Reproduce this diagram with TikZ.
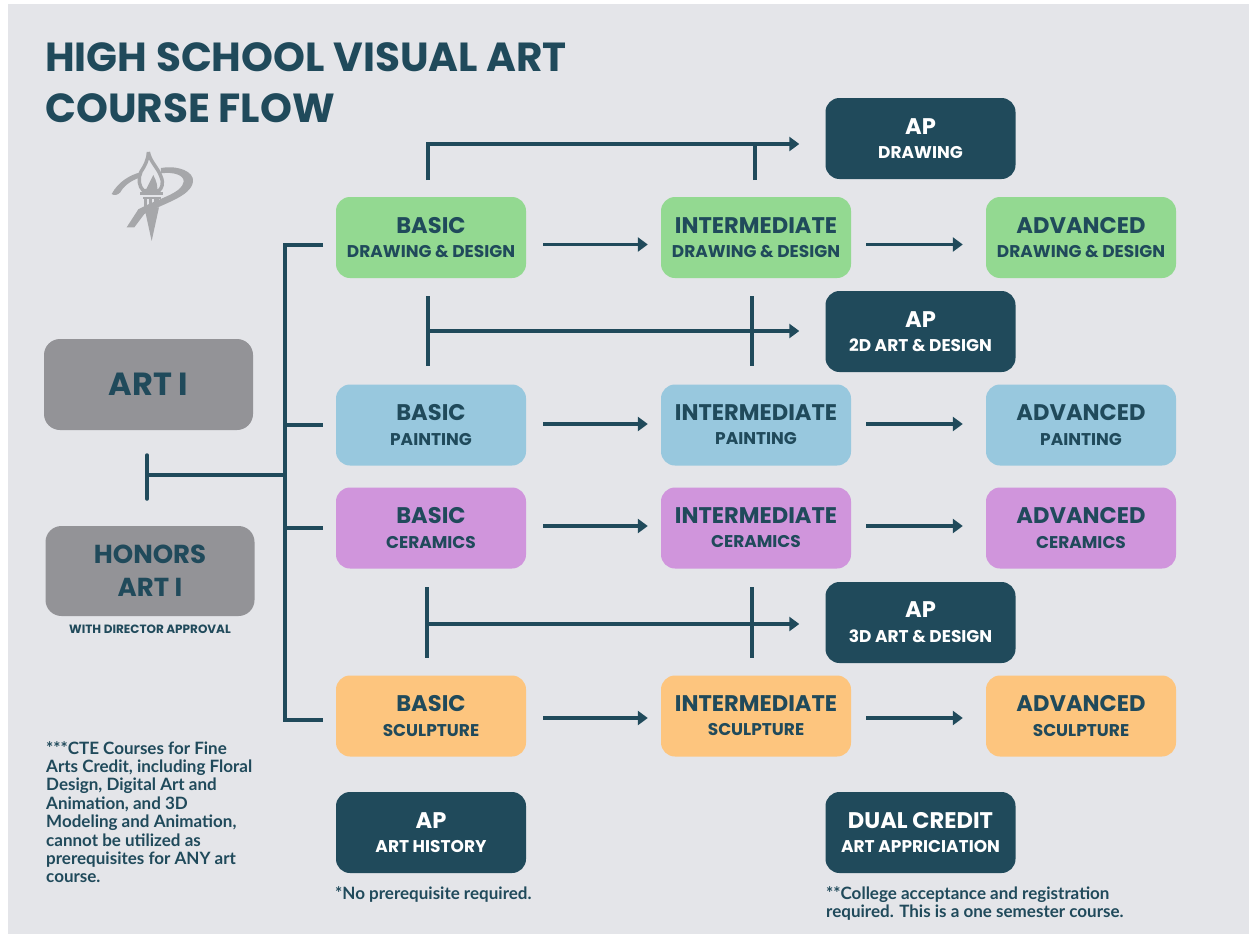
\documentclass[tikz,border=0pt]{standalone}
\usepackage{fontspec}
\setmainfont{Poppins}
\newfontfamily\notefont{Lato}
\usetikzlibrary{arrows.meta}
\definecolor{ink}{HTML}{204A5B}
\definecolor{paper}{HTML}{E4E5E9}
\definecolor{grn}{HTML}{93D991}
\definecolor{blu}{HTML}{98C8DE}
\definecolor{pur}{HTML}{D095DC}
\definecolor{org}{HTML}{FDC57E}
\definecolor{gry}{HTML}{939397}
\definecolor{logo}{HTML}{A6A7AA}
\newcommand{\crs}[2]{\fontsize{22.6}{25}\selectfont\raisebox{-1pt}{#1}\\[11pt]\fontsize{17}{25}\selectfont\raisebox{-1pt}{#2}}
\tikzset{
  box/.style = {rounded corners=14pt, minimum width=190pt, minimum height=81pt, inner sep=0pt, align=center, font=\bfseries, text=ink},
  ap/.style = {box, fill=ink, text=white},
  first/.style = {rounded corners=16pt, fill=gry, minimum width=209pt, minimum height=91pt, inner sep=0pt, align=center, text=ink, font=\bfseries\fontsize{32}{33}\selectfont},
  note/.style = {inner sep=0pt, align=left, text=ink, font=\notefont\bfseries\fontsize{17}{18.4}\selectfont},
  line/.style = {draw=ink, line width=3.5pt},
  flow/.style = {line, -{Triangle[length=10pt,width=14pt]}},
  next/.style = {flow, shorten <=17pt, shorten >=13pt},
}
\begin{document}
\begin{tikzpicture}[x=1pt, y=-1pt]
\useasboundingbox (0,0) rectangle (1249,934);
\fill[white] (0,0) rectangle (1249,934);
\fill[paper] (8,4) rectangle (1249,934);
% heading
\node[anchor=base west, inner sep=0pt, text=ink, font=\bfseries\fontsize{40.6}{40}\selectfont] (t1) at (45,71) {HIGH SCHOOL VISUAL ART};
\node[anchor=base west, inner sep=0pt, text=ink, font=\bfseries\fontsize{40.6}{40}\selectfont] (t2) at (45,122) {COURSE FLOW};
% torch
\begin{scope}[shift={(95,140)}, scale=.3333, fill=logo]
\fill (50,162) .. controls (70,125) and (105,105) .. (136,97) -- (137,112) .. controls (105,122) and (85,140) .. (76,157) .. controls (68,165) and (58,168) .. (50,162);
\fill (198,84) .. controls (250,75) and (298,95) .. (294,125) .. controls (288,170) and (205,190) .. (148,222) -- (118,262) -- (95,262) -- (130,208) .. controls (190,175) and (262,160) .. (266,125) .. controls (268,105) and (235,95) .. (198,100) -- cycle;
\draw[logo, line width=3.5pt] (160,36) .. controls (165,65) and (190,85) .. (198,110) .. controls (207,130) and (200,145) .. (192,152) -- (145,152) .. controls (132,140) and (128,115) .. (138,95) .. controls (148,80) and (160,60) .. (160,36);
\fill (150,155) -- (175,105) .. controls (185,125) and (190,140) .. (185,155) -- cycle;
\fill (136,155) rectangle (203,166);
\fill (143,170) rectangle (197,176);
\fill (146,178) rectangle (156,200);
\fill (162,178) rectangle (172,200);
\fill (178,178) rectangle (192,200);
\fill (148,202) -- (192,202) -- (170,303) -- cycle;
\end{scope}
% first year
\node[first] (a1) at (148.5,384.5) {\raisebox{-2pt}{ART I}};
\node[first, minimum height=90pt, font=\bfseries\fontsize{26}{33}\selectfont] (a2) at (150,571) {HONORS\\ART I};
\node[anchor=center, inner sep=0pt, text=ink, font=\bfseries\fontsize{12}{12}\selectfont] (wd) at (150,629) {WITH DIRECTOR APPROVAL};
% course boxes
\node[box, fill=grn] (b1) at (431,237.5) {\crs{BASIC}{DRAWING \& DESIGN}};
\node[box, fill=grn] (i1) at (756,237.5) {\crs{INTERMEDIATE}{DRAWING \& DESIGN}};
\node[box, fill=grn] (c1) at (1081,237.5) {\crs{ADVANCED}{DRAWING \& DESIGN}};
\node[box, fill=blu] (b2) at (431,425) {\crs{BASIC}{PAINTING}};
\node[box, fill=blu] (i2) at (756,425) {\crs{INTERMEDIATE}{PAINTING}};
\node[box, fill=blu] (c2) at (1081,425) {\crs{ADVANCED}{PAINTING}};
\node[box, fill=pur] (b3) at (431,528) {\crs{BASIC}{CERAMICS}};
\node[box, fill=pur] (i3) at (756,528) {\crs{INTERMEDIATE}{CERAMICS}};
\node[box, fill=pur] (c3) at (1081,528) {\crs{ADVANCED}{CERAMICS}};
\node[box, fill=org] (b4) at (431,716) {\crs{BASIC}{SCULPTURE}};
\node[box, fill=org] (i4) at (756,716) {\crs{INTERMEDIATE}{SCULPTURE}};
\node[box, fill=org] (c4) at (1081,716) {\crs{ADVANCED}{SCULPTURE}};
% ap boxes
\node[ap] (p1) at (920.5,138.5) {\crs{AP}{DRAWING}};
\node[ap] (p2) at (920.5,331.5) {\crs{AP}{2D ART \& DESIGN}};
\node[ap] (p3) at (920.5,622.5) {\crs{AP}{3D ART \& DESIGN}};
\node[ap] (p4) at (431,832.5) {\crs{AP}{ART HISTORY}};
\node[ap] (p5) at (920.5,832.5) {\crs{DUAL CREDIT}{ART APPRICIATION}};
% notes
\node[note, anchor=north west] (n1) at (46,741) {***CTE Courses for Fine\\Arts Credit, including Floral\\Design, Digital Art and\\Animation, and 3D\\Modeling and Animation,\\cannot be utilized as\\prerequisites for ANY art\\course.};
\node[note, anchor=north west] (n2) at (335,886) {*No prerequisite required.};
\node[note, anchor=north west] (n3) at (826,886) {**College acceptance and registration\\required. This is a one semester course.};
% points the lines start from
\coordinate (s0) at (285,245);
\coordinate (s1) at (285,720);
\coordinate (s2) at (285,475);
\coordinate (s3) at (147,475);
\coordinate (s4) at (147,455);
\coordinate (s5) at (147,499);
\coordinate (e0) at (323,245);
\coordinate (e1) at (323,425);
\coordinate (e2) at (323,528);
\coordinate (e3) at (323,720);
\coordinate (u1) at (428,180);
\coordinate (u2) at (428,144);
\coordinate (u3) at (755,180);
\coordinate (u4) at (755,144);
\coordinate (v1) at (428,296);
\coordinate (v2) at (428,366);
\coordinate (v3) at (428,331);
\coordinate (v4) at (752,296);
\coordinate (v5) at (752,366);
\coordinate (w1) at (427,587);
\coordinate (w2) at (427,658);
\coordinate (w3) at (427,624);
\coordinate (w4) at (752,587);
\coordinate (w5) at (752,658);
% trunk
\draw[line] (e0) -- (s0) -- (s1) -- (e3);
\draw[line] (s3) -- (s2);
\draw[line, line cap=round] (s4) -- (s5);
\draw[line] (285,425) -- (e1);
\draw[line] (285,528) -- (e2);
% rows
\foreach \r/\d in {1/7,2/-1,3/-2,4/2}{
  \draw[next] ([yshift=-\d pt]b\r.east) -- ([yshift=-\d pt]i\r.west);
  \draw[next, shorten <=15pt, shorten >=23pt] ([yshift=-\d pt]i\r.east) -- ([yshift=-\d pt]c\r.west);
}
% to the ap boxes
\draw[flow] (u1) -- (u2) -- ([xshift=-26pt]p1.west |- u2);
\draw[line] (u3) -- (u4);
\draw[line] (v1) -- (v2);
\draw[line] (v4) -- (v5);
\draw[flow] (v3) -- ([xshift=-26pt]p2.west |- v3);
\draw[line] (w1) -- (w2);
\draw[line] (w4) -- (w5);
\draw[flow] (w3) -- ([xshift=-26pt]p3.west |- w3);
\end{tikzpicture}
\end{document}
